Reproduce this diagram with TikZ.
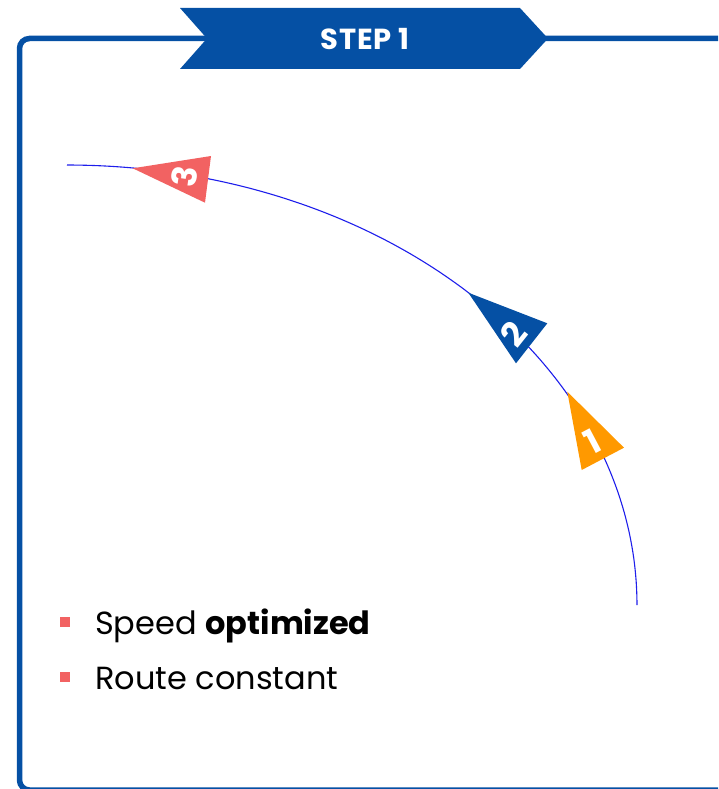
\documentclass[tikz,border=0pt]{standalone}
\usepackage{fontspec}
\setmainfont{Poppins}
\newfontfamily\titlefont[LetterSpace=3]{Poppins}
\definecolor{frameblue}{RGB}{5,80,164}
\definecolor{salmon}{RGB}{242,98,98}
\definecolor{orng}{RGB}{255,153,0}
\definecolor{arcblue}{RGB}{30,30,235}
\tikzset{
  framestyle/.style={draw=frameblue, line width=5.5pt, rounded corners=10pt},
  digit/.style={text=white, font=\fontsize{34}{34}\selectfont\bfseries, inner sep=0pt},
  bullettext/.style={anchor=base west, inner sep=0pt, font=\fontsize{32}{32}\selectfont},
  bulletsq/.style={fill=salmon, minimum size=10pt, inner sep=0pt},
}
\begin{document}
\begin{tikzpicture}[x=1pt,y=-1pt]
\useasboundingbox (0,0) rectangle (718,789);
\begin{scope}
\clip (0,0) rectangle (718,789);
\draw[framestyle] (900,38.5) -- (19.5,38.5) -- (19.5,790) -- (900,790);
\end{scope}
% banner
\fill[frameblue] (180,8) -- (520,8) -- (548,38.5) -- (520,69) -- (180,69) -- (207,38.5) -- cycle;
\node[text=white, font=\titlefont\fontsize{29}{29}\selectfont\bfseries, inner sep=0pt] (title) at (365,39) {STEP 1};
% arc
\draw[arcblue, line width=1.1pt] plot[domain=-90:0, samples=120] ({67+570*cos(\x)},{605+440*sin(\x)});
% triangles
\fill[salmon] (132.7,168.3) -- (211,156) -- (205,202.7) -- cycle;
\fill[frameblue] (468.3,292.7) -- (547.3,323.3) -- (516,363.3) -- cycle;
\fill[orng] (567.3,391.7) -- (624,447.7) -- (581.7,470) -- cycle;
\node[digit, rotate=81.7] (d3) at (185,177) {3};
\node[digit, rotate=51.4] (d2) at (513.5,334) {2};
\node[digit, rotate=27.9] (d1) at (592,442) {1};
% bullets
\node[bulletsq] (b1) at (65,622) {};
\node[bulletsq] (b2) at (65,677) {};
\node[bullettext] (t1) at (95,634) {Speed \textbf{optimized}};
\node[bullettext] (t2) at (95,689) {Route constant};
\end{tikzpicture}
\end{document}
